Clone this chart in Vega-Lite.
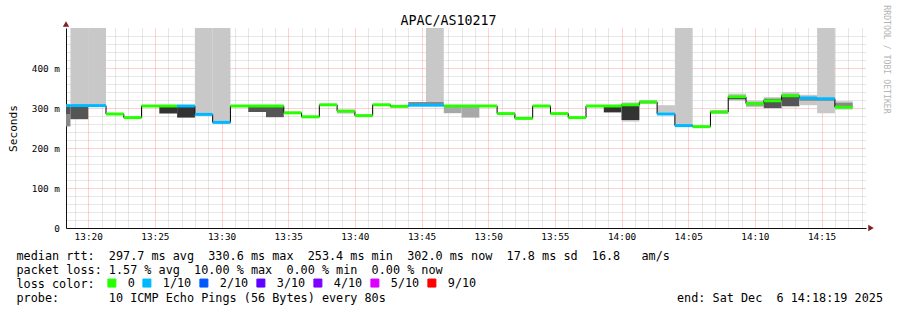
{
  "$schema": "https://vega.github.io/schema/vega-lite/v6.json",
  "width": 800,
  "height": 200,
  "autosize": {"type": "none"},
  "padding": {"left": 66, "top": 28, "right": 31, "bottom": 82},
  "background": "white",
  "config": {
    "font": "DejaVu Sans Mono",
    "view": {"stroke": null},
    "axis": {"labelFont": "DejaVu Sans Mono", "titleFont": "DejaVu Sans Mono", "zindex": 1}
  },
  "datasets": {
    "median": [
      {"s": 18.3333, "e": 18.6667, "med": 306, "loss": "1/10"},
      {"s": 18.6667, "e": 20, "med": 306, "loss": "1/10"},
      {"s": 20, "e": 21.3333, "med": 306, "loss": "1/10"},
      {"s": 21.3333, "e": 22.6667, "med": 285, "loss": "0"},
      {"s": 22.6667, "e": 24, "med": 276, "loss": "0"},
      {"s": 24, "e": 25.3333, "med": 305, "loss": "0"},
      {"s": 25.3333, "e": 26.6667, "med": 305, "loss": "0"},
      {"s": 26.6667, "e": 28, "med": 305, "loss": "1/10"},
      {"s": 28, "e": 29.3333, "med": 284, "loss": "1/10"},
      {"s": 29.3333, "e": 30.6667, "med": 264, "loss": "1/10"},
      {"s": 30.6667, "e": 32, "med": 305, "loss": "0"},
      {"s": 32, "e": 33.3333, "med": 305, "loss": "0"},
      {"s": 33.3333, "e": 34.6667, "med": 305, "loss": "0"},
      {"s": 34.6667, "e": 36, "med": 288, "loss": "0"},
      {"s": 36, "e": 37.3333, "med": 278, "loss": "0"},
      {"s": 37.3333, "e": 38.6667, "med": 308, "loss": "0"},
      {"s": 38.6667, "e": 40, "med": 292, "loss": "0"},
      {"s": 40, "e": 41.3333, "med": 281, "loss": "0"},
      {"s": 41.3333, "e": 42.6667, "med": 308, "loss": "0"},
      {"s": 42.6667, "e": 44, "med": 304, "loss": "0"},
      {"s": 44, "e": 45.3333, "med": 307, "loss": "1/10"},
      {"s": 45.3333, "e": 46.6667, "med": 307, "loss": "1/10"},
      {"s": 46.6667, "e": 48, "med": 305, "loss": "0"},
      {"s": 48, "e": 49.3333, "med": 305, "loss": "0"},
      {"s": 49.3333, "e": 50.6667, "med": 305, "loss": "0"},
      {"s": 50.6667, "e": 52, "med": 286, "loss": "0"},
      {"s": 52, "e": 53.3333, "med": 274, "loss": "0"},
      {"s": 53.3333, "e": 54.6667, "med": 305, "loss": "0"},
      {"s": 54.6667, "e": 56, "med": 286, "loss": "0"},
      {"s": 56, "e": 57.3333, "med": 276, "loss": "0"},
      {"s": 57.3333, "e": 58.6667, "med": 305, "loss": "0"},
      {"s": 58.6667, "e": 60, "med": 305, "loss": "0"},
      {"s": 60, "e": 61.3333, "med": 308, "loss": "0"},
      {"s": 61.3333, "e": 62.6667, "med": 315, "loss": "0"},
      {"s": 62.6667, "e": 64, "med": 285, "loss": "1/10"},
      {"s": 64, "e": 65.3333, "med": 256, "loss": "1/10"},
      {"s": 65.3333, "e": 66.6667, "med": 253.4, "loss": "0"},
      {"s": 66.6667, "e": 68, "med": 290, "loss": "0"},
      {"s": 68, "e": 69.3333, "med": 328, "loss": "0"},
      {"s": 69.3333, "e": 70.6667, "med": 311, "loss": "0"},
      {"s": 70.6667, "e": 72, "med": 318, "loss": "0"},
      {"s": 72, "e": 73.3333, "med": 330.6, "loss": "0"},
      {"s": 73.3333, "e": 74.6667, "med": 325, "loss": "1/10"},
      {"s": 74.6667, "e": 76, "med": 323, "loss": "1/10"},
      {"s": 76, "e": 77.3333, "med": 302, "loss": "0"}
    ],
    "smoke": [
      {"s": 18.3333, "e": 18.6667, "lo": 254, "hi": 285, "shade": "g"},
      {"s": 18.3333, "e": 18.6667, "lo": 285, "hi": 303, "shade": "d"},
      {"s": 18.6667, "e": 20, "lo": 309, "hi": 500, "shade": "l"},
      {"s": 18.6667, "e": 20, "lo": 272, "hi": 303, "shade": "d"},
      {"s": 20, "e": 21.3333, "lo": 309, "hi": 500, "shade": "l"},
      {"s": 25.3333, "e": 26.6667, "lo": 286, "hi": 303, "shade": "k"},
      {"s": 26.6667, "e": 28, "lo": 276, "hi": 303, "shade": "k"},
      {"s": 28, "e": 29.3333, "lo": 287, "hi": 500, "shade": "l"},
      {"s": 29.3333, "e": 30.6667, "lo": 267, "hi": 500, "shade": "l"},
      {"s": 32, "e": 33.3333, "lo": 290, "hi": 303, "shade": "d"},
      {"s": 33.3333, "e": 34.6667, "lo": 277, "hi": 303, "shade": "d"},
      {"s": 38.6667, "e": 40, "lo": 286, "hi": 296, "shade": "l"},
      {"s": 44, "e": 45.3333, "lo": 310, "hi": 315, "shade": "g"},
      {"s": 45.3333, "e": 46.6667, "lo": 315, "hi": 500, "shade": "l"},
      {"s": 45.3333, "e": 46.6667, "lo": 310, "hi": 315, "shade": "g"},
      {"s": 46.6667, "e": 48, "lo": 287, "hi": 303, "shade": "m"},
      {"s": 48, "e": 49.3333, "lo": 276, "hi": 303, "shade": "m"},
      {"s": 58.6667, "e": 60, "lo": 289, "hi": 303, "shade": "k"},
      {"s": 60, "e": 61.3333, "lo": 266, "hi": 314, "shade": "l"},
      {"s": 60, "e": 61.3333, "lo": 270, "hi": 307, "shade": "k"},
      {"s": 61.3333, "e": 62.6667, "lo": 310, "hi": 320, "shade": "l"},
      {"s": 62.6667, "e": 64, "lo": 288, "hi": 307, "shade": "l"},
      {"s": 64, "e": 65.3333, "lo": 258, "hi": 500, "shade": "l"},
      {"s": 66.6667, "e": 68, "lo": 285, "hi": 295, "shade": "l"},
      {"s": 68, "e": 69.3333, "lo": 318, "hi": 336, "shade": "l"},
      {"s": 68, "e": 69.3333, "lo": 322, "hi": 327, "shade": "k"},
      {"s": 69.3333, "e": 70.6667, "lo": 302, "hi": 319, "shade": "l"},
      {"s": 69.3333, "e": 70.6667, "lo": 306, "hi": 314, "shade": "g"},
      {"s": 70.6667, "e": 72, "lo": 298, "hi": 327, "shade": "l"},
      {"s": 70.6667, "e": 72, "lo": 300, "hi": 323, "shade": "d"},
      {"s": 72, "e": 73.3333, "lo": 302, "hi": 340, "shade": "l"},
      {"s": 72, "e": 73.3333, "lo": 305, "hi": 333, "shade": "d"},
      {"s": 73.3333, "e": 74.6667, "lo": 307, "hi": 333, "shade": "l"},
      {"s": 73.3333, "e": 74.6667, "lo": 318, "hi": 325, "shade": "g"},
      {"s": 74.6667, "e": 76, "lo": 287, "hi": 500, "shade": "l"},
      {"s": 74.6667, "e": 76, "lo": 318, "hi": 323, "shade": "g"},
      {"s": 76, "e": 77.3333, "lo": 296, "hi": 317, "shade": "l"},
      {"s": 76, "e": 77.3333, "lo": 301, "hi": 313, "shade": "g"}
    ],
    "arrows": [
      {"t": 78.708, "v": 0, "dir": "right"},
      {"t": 18.3333, "v": 510, "dir": "up"}
    ]
  },
  "layer": [
    {
      "data": {"name": "smoke"},
      "mark": {"type": "rect"},
      "encoding": {
        "x": {
          "field": "s", "type": "quantitative",
          "scale": {"domain": [18.3333, 78.3333], "nice": false, "zero": false},
          "axis": {
            "orient": "bottom",
            "values": [19,21,22,23,24,26,27,28,29,31,32,33,34,36,37,38,39,41,42,43,44,46,47,48,49,51,52,53,54,56,57,58,59,61,62,63,64,66,67,68,69,71,72,73,74,76,77,78],
            "grid": true, "gridColor": "#8c8c8c", "gridOpacity": 0.42, "gridDash": [1, 1],
            "labels": false, "ticks": false, "domain": false, "title": null
          }
        },
        "x2": {"field": "e"},
        "y": {
          "field": "lo", "type": "quantitative",
          "scale": {"domain": [0, 500], "nice": false, "zero": true},
          "axis": {
            "orient": "left",
            "values": [20,40,60,80,120,140,160,180,220,240,260,280,320,340,360,380,420,440,460,480],
            "grid": true, "gridColor": "#8c8c8c", "gridOpacity": 0.42, "gridDash": [1, 1],
            "labels": false, "ticks": false, "domain": false, "title": null
          }
        },
        "y2": {"field": "hi"},
        "fill": {
          "field": "shade", "type": "nominal",
          "scale": {"domain": ["l", "m", "g", "d", "k"], "range": ["#c8c8c8", "#a8a8a8", "#888888", "#555555", "#333333"]},
          "legend": null
        }
      }
    },
    {
      "data": {"name": "median"},
      "mark": {"type": "line", "interpolate": "step-after", "color": "#000000", "strokeWidth": 1},
      "encoding": {
        "x": {
          "field": "s", "type": "quantitative",
          "axis": {
            "orient": "bottom",
            "values": [20, 25, 30, 35, 40, 45, 50, 55, 60, 65, 70, 75],
            "grid": true, "gridColor": "#ff0000", "gridOpacity": 0.36, "gridDash": [1, 1],
            "domain": true, "domainColor": "#111111", "domainWidth": 1,
            "ticks": false,
            "labelExpr": "(13 + floor(datum.value / 60)) + ':' + (datum.value % 60 < 10 ? '0' : '') + (datum.value % 60)",
            "labelFontSize": 9.4, "labelColor": "#000000", "labelPadding": 4.5,
            "labelFlush": false, "labelOverlap": false,
            "title": [
              "median rtt:\u00a0 297.7 ms avg\u00a0 330.6 ms max\u00a0 253.4 ms min\u00a0 302.0 ms now\u00a0 17.8 ms sd\u00a0 16.8\u00a0\u00a0 am/s",
              "packet loss: 1.57 % avg\u00a0 10.00 % max\u00a0 0.00 % min\u00a0 0.00 % now",
              "loss color:",
              "probe:\u00a0\u00a0\u00a0\u00a0\u00a0\u00a0 10 ICMP Echo Pings (56 Bytes) every 80s\u00a0\u00a0\u00a0\u00a0\u00a0\u00a0\u00a0\u00a0\u00a0\u00a0\u00a0\u00a0\u00a0\u00a0\u00a0\u00a0\u00a0\u00a0\u00a0\u00a0\u00a0\u00a0\u00a0\u00a0\u00a0\u00a0\u00a0\u00a0\u00a0\u00a0\u00a0\u00a0\u00a0\u00a0\u00a0\u00a0\u00a0\u00a0\u00a0\u00a0\u00a0end: Sat Dec\u00a0 6 14:18:19 2025"
            ],
            "titleFontSize": 11.8, "titleFontWeight": "normal", "titleColor": "#000000",
            "titleAlign": "left", "titleAnchor": "start", "titleBaseline": "alphabetic",
            "titleX": -50, "titleY": 31, "titleLineHeight": 14, "titleLimit": 2000
          }
        },
        "y": {
          "field": "med", "type": "quantitative",
          "axis": {
            "orient": "left",
            "values": [0, 100, 200, 300, 400],
            "grid": true, "gridColor": "#ff0000", "gridOpacity": 0.36, "gridDash": [1, 1],
            "domain": true, "domainColor": "#111111", "domainWidth": 1,
            "ticks": false,
            "labelExpr": "datum.value == 0 ? '0' : datum.value + ' m'",
            "labelFontSize": 9.4, "labelColor": "#000000", "labelPadding": 6.5,
            "title": "Seconds",
            "titleFontSize": 11.1, "titleFontWeight": "normal", "titleColor": "#000000",
            "titleAngle": 270, "titleAlign": "center", "titleBaseline": "alphabetic",
            "titleX": -50, "titleY": 100
          }
        }
      }
    },
    {
      "data": {"name": "median"},
      "mark": {"type": "rule", "strokeWidth": 3, "strokeCap": "butt"},
      "encoding": {
        "x": {
          "field": "s", "type": "quantitative",
          "axis": {
            "orient": "top", "grid": false, "labels": false, "ticks": false, "domain": false,
            "title": "APAC/AS10217",
            "titleFontSize": 13.3, "titleFontWeight": "normal", "titleColor": "#000000",
            "titleAlign": "center", "titleBaseline": "alphabetic",
            "titleX": 382, "titleY": -4
          }
        },
        "x2": {"field": "e"},
        "y": {
          "field": "med", "type": "quantitative",
          "axis": {
            "orient": "right", "grid": false, "labels": false, "ticks": false, "domain": false,
            "title": "RRDTOOL / TOBI OETIKER",
            "titleFontSize": 8.2, "titleFontWeight": "normal", "titleColor": "#b4b4b4",
            "titleAngle": 90, "titleAlign": "center", "titleBaseline": "alphabetic",
            "titleX": 17, "titleY": 31
          }
        },
        "color": {
          "field": "loss", "type": "nominal",
          "scale": {
            "domain": ["0", "1/10", "2/10", "3/10", "4/10", "5/10", "9/10"],
            "range": ["#26ff00", "#00b8ff", "#0059ff", "#5e00ff", "#7e00ff", "#dd00ff", "#ff0000"]
          },
          "legend": {
            "orient": "none", "legendX": 40, "legendY": 249,
            "direction": "horizontal", "title": null,
            "symbolType": "square", "symbolSize": 64,
            "symbolStrokeColor": "#000000", "symbolStrokeWidth": 1,
            "labelFont": "DejaVu Sans Mono", "labelFontSize": 11.8, "labelColor": "#000000",
            "labelOffset": 10, "columnPadding": 5, "padding": 0,
            "encode": {
              "symbols": {
                "update": {
                  "fill": {"signal": "scale('color', datum.value)"},
                  "stroke": {"value": "#000000"},
                  "strokeWidth": {"value": 1},
                  "opacity": {"value": 1}
                }
              }
            }
          }
        }
      }
    },
    {
      "data": {"name": "arrows"},
      "mark": {"type": "point", "filled": true, "color": "#7f1f1f", "size": 40, "opacity": 1},
      "encoding": {
        "x": {"field": "t", "type": "quantitative", "axis": null},
        "y": {"field": "v", "type": "quantitative", "axis": null},
        "shape": {
          "field": "dir", "type": "nominal",
          "scale": {"domain": ["right", "up"], "range": ["triangle-right", "triangle-up"]},
          "legend": null
        }
      }
    }
  ],
  "resolve": {"axis": {"x": "independent", "y": "independent"}}
}
